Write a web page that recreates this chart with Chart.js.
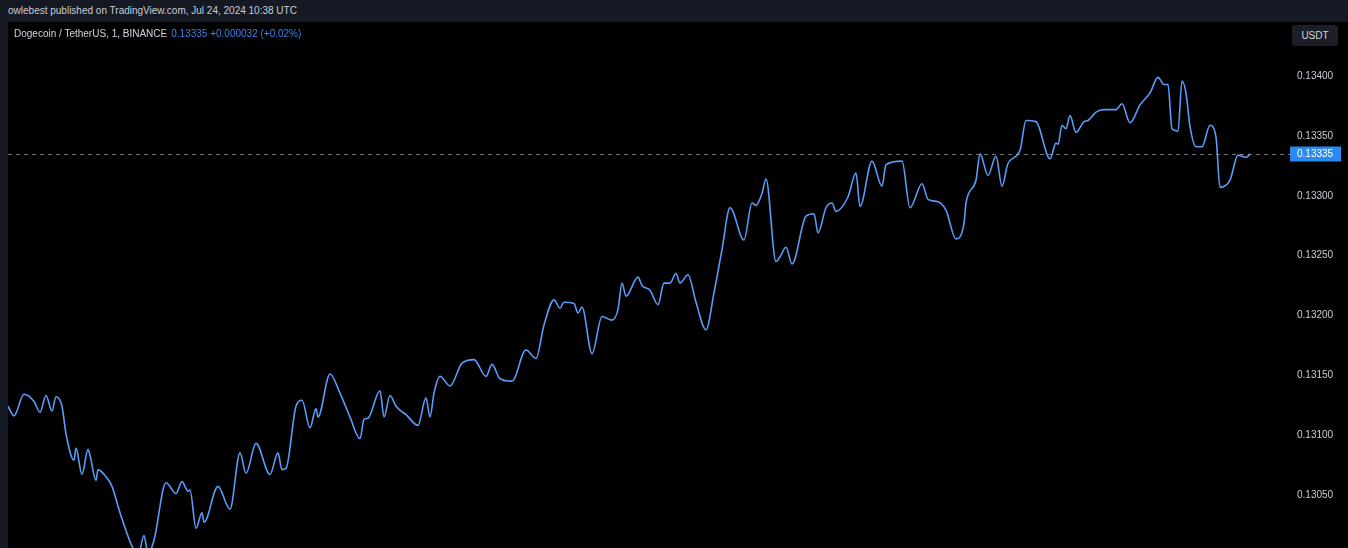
<!DOCTYPE html>
<html>
<head>
<meta charset="utf-8">
<script src="https://cdn.jsdelivr.net/npm/chart.js@4"></script>
<style>
  html, body { margin:0; padding:0; width:1348px; height:548px; overflow:hidden; background:#151924; font-family:"Liberation Sans", Arial, sans-serif; }
  #top { position:absolute; left:8px; top:0; height:22px; line-height:22px; font-size:10px; color:#c9ccd4; }
  #wrap { position:absolute; left:8px; top:22px; width:1340px; height:526px; background:#000; }
  #legend { position:absolute; left:14px; top:28px; font-size:10px; color:#d1d4dc; white-space:nowrap; }
  #legend .v { color:#3f7fe8; margin-left:4px; }
  #unit { position:absolute; left:1292px; top:25px; width:46px; height:21px; line-height:21px; background:#1c1f28; border-radius:3px; text-align:center; font-size:10px; color:#d1d4dc; }
</style>
</head>
<body>
<div id="top">owlebest published on TradingView.com, Jul 24, 2024 10:38 UTC</div>
<div id="wrap"><canvas id="c" width="1340" height="526"></canvas></div>
<div id="legend">Dogecoin / TetherUS, 1, BINANCE<span class="v">0.13335 +0.000032 (+0.02%)</span></div>
<div id="unit">USDT</div>
<script>
// minute offsets (1-minute bars) and close prices
const minutes = [0,3,8,13,16,19,22,24,27,29,33,34,37,40,41,44,45,49,52,56,62,65,68,70,73,79,84,87,90,91,94,97,98,105,111,116,119,124,131,135,137,139,144,147,151,154,155,161,166,171,176,178,180,186,188,191,194,199,205,209,211,213,216,221,227,233,239,242,246,252,259,264,268,273,276,278,283,285,287,292,297,302,305,307,309,315,317,321,325,328,331,334,336,340,344,349,353,357,361,368,372,374,377,379,384,386,389,392,399,403,405,409,412,414,420,424,426,432,437,439,447,451,457,460,465,469,474,478,479,484,486,490,494,497,500,506,509,514,521,524,525,527,529,531,534,538,540,544,548,554,557,561,566,571,575,578,580,582,585,587,589,591,594,597,601,604,606,611,615,617,619,621];
const prices = [0.13124,0.13116,0.13134,0.13128,0.13119,0.13133,0.13120,0.13132,0.13124,0.13101,0.13079,0.13089,0.13067,0.13088,0.13083,0.13062,0.13071,0.13065,0.13057,0.13035,0.13007,0.12999,0.13016,0.13001,0.13012,0.13060,0.13051,0.13061,0.13053,0.13054,0.13022,0.13035,0.13027,0.13057,0.13038,0.13085,0.13068,0.13093,0.13067,0.13085,0.13071,0.13072,0.13124,0.13129,0.13106,0.13122,0.13115,0.13151,0.13135,0.13115,0.13097,0.13113,0.13114,0.13137,0.13115,0.13133,0.13124,0.13117,0.13108,0.13131,0.13115,0.13135,0.13149,0.13141,0.13160,0.13163,0.13149,0.13159,0.13147,0.13145,0.13171,0.13164,0.13192,0.13213,0.13206,0.13211,0.13210,0.13202,0.13207,0.13168,0.13199,0.13196,0.13205,0.13227,0.13216,0.13232,0.13225,0.13221,0.13209,0.13227,0.13227,0.13235,0.13227,0.13234,0.13211,0.13188,0.13219,0.13255,0.13290,0.13263,0.13294,0.13292,0.13302,0.13314,0.13245,0.13249,0.13257,0.13243,0.13283,0.13285,0.13269,0.13290,0.13294,0.13287,0.13299,0.13319,0.13291,0.13329,0.13308,0.13326,0.13329,0.13290,0.13310,0.13297,0.13295,0.13288,0.13264,0.13277,0.13294,0.13313,0.13335,0.13317,0.13333,0.13308,0.13327,0.13338,0.13363,0.13362,0.13331,0.13344,0.13343,0.13359,0.13356,0.13367,0.13353,0.13362,0.13363,0.13370,0.13372,0.13372,0.13377,0.13361,0.13376,0.13386,0.13399,0.13393,0.13393,0.13356,0.13354,0.13396,0.13386,0.13358,0.13341,0.13341,0.13359,0.13349,0.13307,0.13313,0.13334,0.13333,0.13332,0.13335];
const tickValues = [0.13050,0.13100,0.13150,0.13200,0.13250,0.13300,0.13350,0.13400];
const lastPrice = 0.13335;

const priceLine = {
  id: 'priceLine',
  afterDatasetsDraw(chart) {
    const ctx = chart.ctx, y = chart.scales.y, a = chart.chartArea;
    const py = Math.round(y.getPixelForValue(lastPrice)) + 0.5;
    ctx.save();
    ctx.strokeStyle = 'rgba(150,155,168,0.75)';
    ctx.lineWidth = 1;
    ctx.setLineDash([4, 4]);
    ctx.beginPath(); ctx.moveTo(a.left, py); ctx.lineTo(1282, py); ctx.stroke();
    ctx.setLineDash([]);
    ctx.fillStyle = '#2a8af0';
    ctx.fillRect(1282, py - 8, 51, 15);
    ctx.fillStyle = '#ffffff';
    ctx.font = '10px "Liberation Sans", Arial, sans-serif';
    ctx.textBaseline = 'middle';
    ctx.textAlign = 'left';
    ctx.fillText(lastPrice.toFixed(5), 1289, py);
    ctx.restore();
  }
};

new Chart(document.getElementById('c'), {
  type: 'line',
  data: {
    datasets: [{
      data: minutes.map((m, i) => ({ x: m, y: prices[i] })),
      borderColor: '#5a9cf8',
      borderWidth: 1.6,
      pointRadius: 0,
      fill: false,
      cubicInterpolationMode: 'monotone'
    }]
  },
  options: {
    responsive: false,
    animation: false,
    layout: { padding: 0 },
    plugins: { legend: { display: false }, tooltip: { enabled: false } },
    scales: {
      x: { type: 'linear', min: 0, max: 622, display: false },
      y: {
        position: 'right',
        min: 0.130055, max: 0.134453,
        afterBuildTicks: s => { s.ticks = tickValues.map(v => ({ value: v })); },
        afterFit: s => { s.width = 96; s.paddingTop = 0; s.paddingBottom = 0; },
        grid: { display: false, drawTicks: false },
        border: { display: false },
        ticks: {
          padding: 45,
          color: '#c9ccd4',
          font: { size: 10, family: '"Liberation Sans", Arial, sans-serif' },
          callback: v => Number(v).toFixed(5)
        }
      }
    }
  },
  plugins: [priceLine]
});
</script>
</body>
</html>
